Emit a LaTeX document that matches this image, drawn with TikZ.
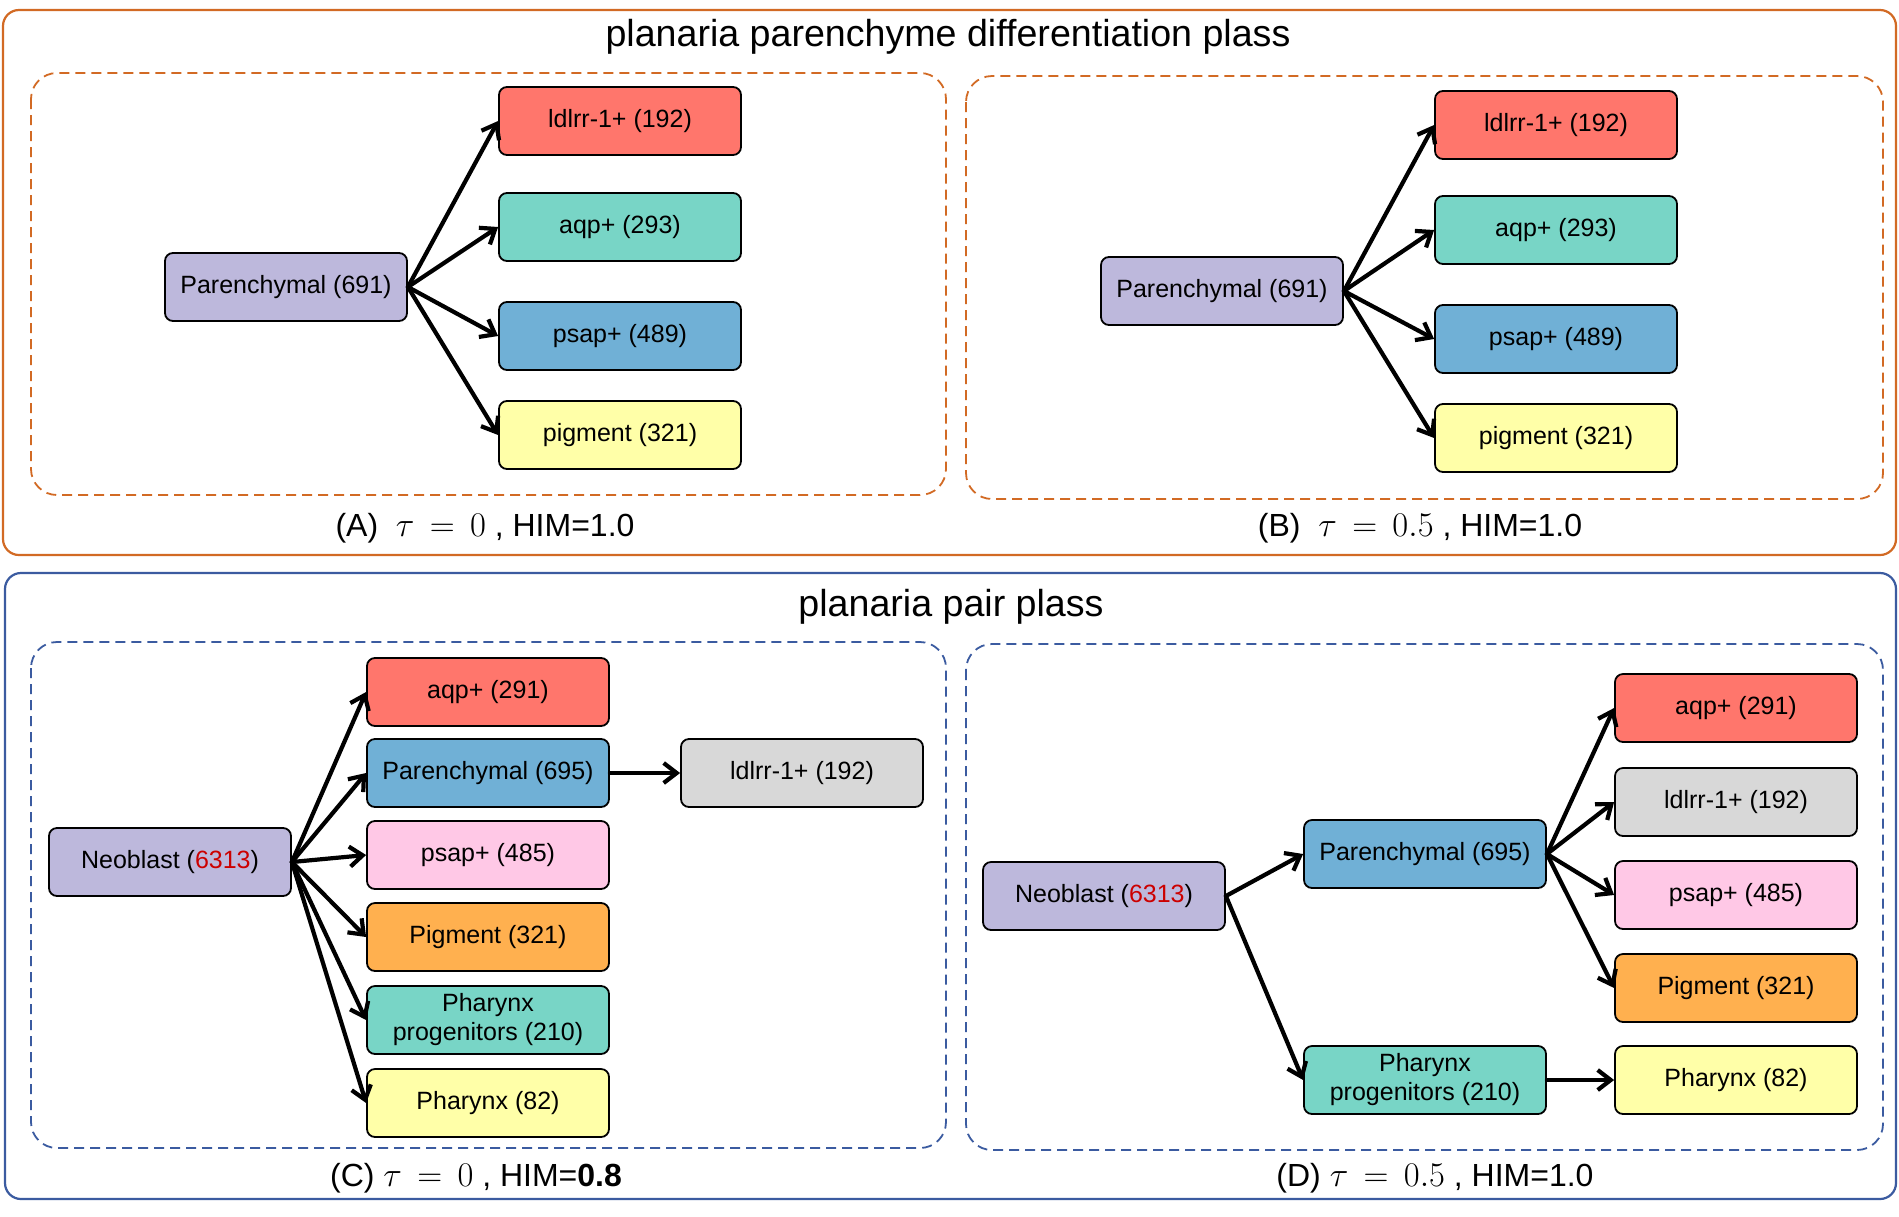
\documentclass[tikz,border=0pt]{standalone}
\usepackage{fontspec}
\setmainfont{Liberation Sans}
\usetikzlibrary{arrows.meta}
\definecolor{cpurple}{HTML}{BDB8DC}
\definecolor{cred}{HTML}{FF766C}
\definecolor{cteal}{HTML}{78D5C6}
\definecolor{cblue}{HTML}{70B0D6}
\definecolor{cyellow}{HTML}{FFFFA8}
\definecolor{cpink}{HTML}{FFC8E6}
\definecolor{corange}{HTML}{FFB04F}
\definecolor{cgray}{HTML}{D8D8D8}
\definecolor{frameorange}{HTML}{D26A24}
\definecolor{frameblue}{HTML}{3B5BA0}
\definecolor{numred}{HTML}{CC0000}
\begin{document}
\begin{tikzpicture}[x=0.5pt,y=-0.5pt,
  box/.style={draw=black, line width=0.9pt, rounded corners=4pt, minimum width=121pt, minimum height=34pt, inner sep=1pt, align=center, font=\fontsize{12.5}{14.5}\selectfont},
  arr/.style={-{Straight Barb[length=6.5pt,width=10pt,line width=2.1pt]}, line width=2.1pt, line cap=round},
  outerO/.style={draw=frameorange, line width=1.1pt, rounded corners=8pt},
  outerB/.style={draw=frameblue, line width=1.1pt, rounded corners=8pt},
  dashO/.style={draw=frameorange, line width=0.9pt, dash pattern=on 5pt off 3pt, rounded corners=13pt},
  dashB/.style={draw=frameblue, line width=0.9pt, dash pattern=on 5pt off 3pt, rounded corners=13pt},
  ttl/.style={font=\fontsize{18.8}{22}\selectfont},
  captxt/.style={font=\fontsize{16}{19}\selectfont}]
\useasboundingbox (0,0) rectangle (1899,1216);

% ---------- top frame ----------
\draw[outerO] (3,10) rectangle (1896,555);
\node[ttl] (t1) at (948,37) {planaria parenchyme differentiation plass};
\draw[dashO] (31,73) rectangle (946,495);
\draw[dashO] (966,76) rectangle (1883,499);
\node[captxt] (capA) at (485,528) {(A)\ \ $\tau\,=\,0$ , HIM=1.0};
\node[captxt] (capB) at (1420,528) {(B)\ \ $\tau\,=\,0.5$ , HIM=1.0};

% Panel A
\node[box, fill=cpurple] (a0) at (286,287) {Parenchymal (691)};
\node[box, fill=cred]    (a1) at (620,121) {ldlrr-1+ (192)};
\node[box, fill=cteal]   (a2) at (620,227) {aqp+ (293)};
\node[box, fill=cblue]   (a3) at (620,336) {psap+ (489)};
\node[box, fill=cyellow] (a4) at (620,435) {pigment (321)};
\foreach \t in {a1,a2,a3,a4} \draw[arr] (a0.east) -- (\t.west);

% Panel B
\node[box, fill=cpurple] (b0) at (1222,291) {Parenchymal (691)};
\node[box, fill=cred]    (b1) at (1556,125) {ldlrr-1+ (192)};
\node[box, fill=cteal]   (b2) at (1556,230) {aqp+ (293)};
\node[box, fill=cblue]   (b3) at (1556,339) {psap+ (489)};
\node[box, fill=cyellow] (b4) at (1556,438) {pigment (321)};
\foreach \t in {b1,b2,b3,b4} \draw[arr] (b0.east) -- (\t.west);

% ---------- bottom frame ----------
\draw[outerB] (5,573) rectangle (1896,1199);
\node[ttl] (t2) at (951,607) {planaria pair plass};
\draw[dashB] (31,642) rectangle (946,1148);
\draw[dashB] (966,644) rectangle (1883,1150);
\node[captxt] (capC) at (476,1178) {(C) $\tau\,=\,0$ , HIM=\textbf{0.8}};
\node[captxt] (capD) at (1435,1178) {(D) $\tau\,=\,0.5$ , HIM=1.0};

% Panel C
\node[box, fill=cpurple] (c0) at (170,862) {Neoblast (\textcolor{numred}{6313})};
\node[box, fill=cred]    (c1) at (488,692) {aqp+ (291)};
\node[box, fill=cblue]   (c2) at (488,773) {Parenchymal (695)};
\node[box, fill=cpink]   (c3) at (488,855) {psap+ (485)};
\node[box, fill=corange] (c4) at (488,937) {Pigment (321)};
\node[box, fill=cteal]   (c5) at (488,1020) {Pharynx\\progenitors (210)};
\node[box, fill=cyellow] (c6) at (488,1103) {Pharynx (82)};
\node[box, fill=cgray]   (c7) at (802,773) {ldlrr-1+ (192)};
\foreach \t in {c1,c2,c3,c4,c5,c6} \draw[arr] (c0.east) -- (\t.west);
\draw[arr] (c2.east) -- (c7.west);

% Panel D
\node[box, fill=cpurple] (d0) at (1104,896) {Neoblast (\textcolor{numred}{6313})};
\node[box, fill=cblue]   (d1) at (1425,854) {Parenchymal (695)};
\node[box, fill=cteal]   (d2) at (1425,1080) {Pharynx\\progenitors (210)};
\node[box, fill=cred]    (d3) at (1736,708) {aqp+ (291)};
\node[box, fill=cgray]   (d4) at (1736,802) {ldlrr-1+ (192)};
\node[box, fill=cpink]   (d5) at (1736,895) {psap+ (485)};
\node[box, fill=corange] (d6) at (1736,988) {Pigment (321)};
\node[box, fill=cyellow] (d7) at (1736,1080) {Pharynx (82)};
\draw[arr] (d0.east) -- (d1.west);
\draw[arr] (d0.east) -- (d2.west);
\foreach \t in {d3,d4,d5,d6} \draw[arr] (d1.east) -- (\t.west);
\draw[arr] (d2.east) -- (d7.west);
\end{tikzpicture}
\end{document}
